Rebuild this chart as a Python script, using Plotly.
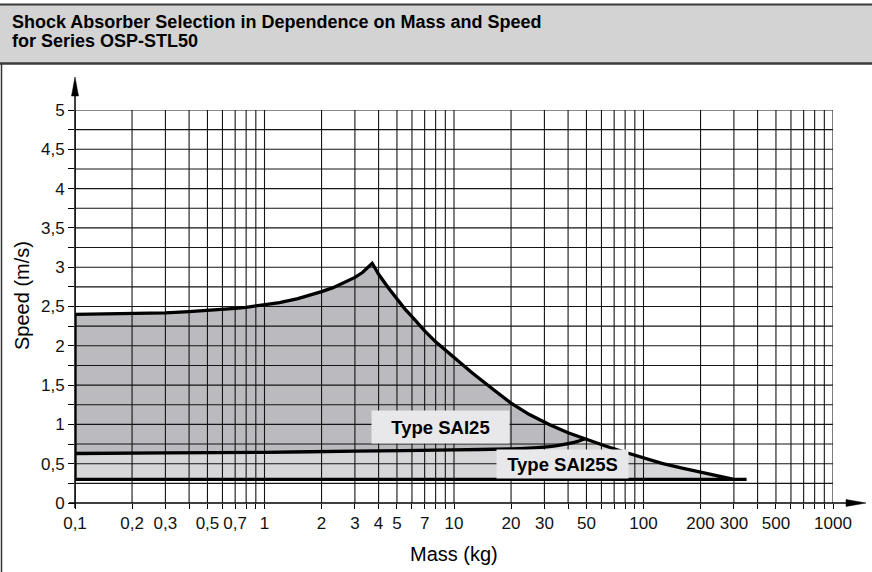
import math
import plotly.graph_objects as go

# ---------------- data ----------------
# upper boundary of the Type SAI25 range (mass kg, speed m/s)
sai25_mass = [0.1, 0.15, 0.2, 0.3, 0.4, 0.5, 0.6, 0.7, 0.8, 1, 1.2, 1.5, 1.8, 2, 2.3, 2.6,
              3, 3.3, 3.5, 3.7,
              3.85, 4, 4.5, 5, 5.5, 6, 7, 8, 9, 10, 12.5, 16, 20, 25, 32, 40,
              49, 63, 80, 100, 125, 160, 200, 250, 300]
sai25_speed = [2.40, 2.405, 2.41, 2.42, 2.435, 2.45, 2.46, 2.475, 2.49, 2.52, 2.55, 2.60,
               2.655, 2.69, 2.74, 2.80, 2.87, 2.935, 2.99, 3.05,
               2.98, 2.91, 2.74, 2.59, 2.47, 2.37, 2.19, 2.05, 1.945, 1.855, 1.655, 1.45,
               1.27, 1.125, 0.995, 0.893,
               0.815, 0.725, 0.645, 0.57, 0.505, 0.445, 0.39, 0.34, 0.30]
# upper boundary of the Type SAI25S range
sai25s_mass = [0.1, 0.3, 1, 3, 10, 20, 25, 30, 35, 40, 45, 49]
sai25s_speed = [0.63, 0.637, 0.645, 0.66, 0.675, 0.688, 0.698, 0.712, 0.73, 0.755, 0.785, 0.815]
# lower limit line
base_mass = [0.1, 350]
base_speed = [0.3, 0.3]

# labels
label_text = ["Type SAI25", "Type SAI25S"]
label_mass = [8.5, 37.4]
label_speed = [0.97, 0.50]

# axis ticks
x_grid = [0.1, 0.2, 0.3, 0.4, 0.5, 0.6, 0.7, 0.8, 0.9,
          1, 2, 3, 4, 5, 6, 7, 8, 9,
          10, 20, 30, 40, 50, 60, 70, 80, 90,
          100, 200, 300, 400, 500, 600, 700, 800, 900, 1000]
x_labels = {0.1: "0,1", 0.2: "0,2", 0.3: "0,3", 0.5: "0,5", 0.7: "0,7", 1: "1",
            2: "2", 3: "3", 4: "4", 5: "5", 7: "7", 10: "10", 20: "20", 30: "30",
            50: "50", 100: "100", 200: "200", 300: "300", 500: "500", 1000: "1000"}
y_grid = [i * 0.25 for i in range(0, 21)]
y_labels = {0: "0", 0.5: "0,5", 1: "1", 1.5: "1,5", 2: "2", 2.5: "2,5",
            3: "3", 3.5: "3,5", 4: "4", 4.5: "4,5", 5: "5"}

# ---------------- layout geometry ----------------
W, H = 872, 572
ML, MR, MT, MB = 75, 39, 110, 69
PW, PH = W - ML - MR, H - MT - MB


def px(xp):
    return (xp - ML) / PW


def py(yp):
    return (H - MB - yp) / PH


FONT = "Liberation Sans, Arial, sans-serif"
DARK = "#bbbbbf"
LIGHT = "#d6d6d8"

fig = go.Figure()

# ---------------- fills ----------------
cross = sai25_mass.index(sai25s_mass[-1])
dark_x = sai25_mass[:cross + 1] + sai25s_mass[::-1]
dark_y = sai25_speed[:cross + 1] + sai25s_speed[::-1]
fig.add_trace(go.Scatter(x=dark_x, y=dark_y, fill="toself", fillcolor=DARK,
                         mode="none", hoverinfo="skip", showlegend=False))

light_x = [base_mass[0]] + sai25s_mass + sai25_mass[cross + 1:] + [base_mass[0]]
light_y = [base_speed[0]] + sai25s_speed + sai25_speed[cross + 1:] + [base_speed[0]]
fig.add_trace(go.Scatter(x=light_x, y=light_y, fill="toself", fillcolor=LIGHT,
                         mode="none", hoverinfo="skip", showlegend=False))

# ---------------- grid (drawn over the fills) ----------------
gx, gy = [], []
for v in x_grid:
    gx += [v, v, None]
    gy += [y_grid[0], y_grid[-1], None]
for v in y_grid[1:]:
    gx += [x_grid[0], x_grid[-1], None]
    gy += [v, v, None]
fig.add_trace(go.Scatter(x=gx, y=gy, mode="lines", line=dict(color="#151515", width=1.1),
                         hoverinfo="skip", showlegend=False))

# ---------------- outlines ----------------
fig.add_trace(go.Scatter(x=[base_mass[1], base_mass[0]] + sai25_mass,
                         y=[base_speed[1], base_speed[0]] + sai25_speed,
                         mode="lines", line=dict(color="black", width=3.3),
                         hoverinfo="skip", showlegend=False))
fig.add_trace(go.Scatter(x=sai25s_mass, y=sai25s_speed, mode="lines",
                         line=dict(color="black", width=3.3, shape="spline", smoothing=0.6),
                         hoverinfo="skip", showlegend=False))

# ---------------- labels ----------------
sizes = [(135, 30), (129, 26)]
for t, m, s, (w, h) in zip(label_text, label_mass, label_speed, sizes):
    fig.add_annotation(x=math.log10(m), y=s, xref="x", yref="y", text=t,
                       showarrow=False, bgcolor="#e8e8ea", width=w, height=h,
                       font=dict(family=FONT, size=18.5, color="black", weight="bold"))

# ---------------- frame, title band, axis arrows ----------------
shapes = [
    dict(type="rect", xref="paper", yref="paper", x0=px(0), x1=px(W), y0=py(64), y1=py(4),
         fillcolor="#d3d3d3", line=dict(width=0), layer="below"),
    dict(type="line", xref="paper", yref="paper", x0=px(0), x1=px(W), y0=py(4.5), y1=py(4.5),
         line=dict(color="#3a3a3a", width=2)),
    dict(type="line", xref="paper", yref="paper", x0=px(0), x1=px(W), y0=py(63.5), y1=py(63.5),
         line=dict(color="#3a3a3a", width=2.5)),
    dict(type="line", xref="paper", yref="paper", x0=px(1.5), x1=px(1.5), y0=py(64), y1=py(H),
         line=dict(color="#333333", width=1.5)),
    # x axis with arrow
    dict(type="line", xref="paper", yref="paper", x0=px(69), x1=px(850), y0=0, y1=0,
         line=dict(color="black", width=1.5)),
    dict(type="path", xref="paper", yref="paper",
         path=f"M {px(846)} {py(499.5)} L {px(866)} {py(503)} L {px(846)} {py(506.5)} Z",
         fillcolor="black", line=dict(color="black", width=0.5)),
    # y axis with arrow
    dict(type="line", xref="paper", yref="paper", x0=0, x1=0, y0=py(508), y1=py(92),
         line=dict(color="black", width=1.5)),
    dict(type="path", xref="paper", yref="paper",
         path=f"M {px(71.5)} {py(96)} L {px(75)} {py(77)} L {px(78.5)} {py(96)} Z",
         fillcolor="black", line=dict(color="black", width=0.5)),
]

annotations = [
    dict(xref="paper", yref="paper", x=px(10), y=py(22), xanchor="left", yanchor="middle",
         text="Shock Absorber Selection in Dependence on Mass and Speed", showarrow=False,
         font=dict(family=FONT, size=18, color="black", weight="bold")),
    dict(xref="paper", yref="paper", x=px(10), y=py(41), xanchor="left", yanchor="middle",
         text="for Series OSP-STL50", showarrow=False,
         font=dict(family=FONT, size=18, color="black", weight="bold")),
    dict(xref="paper", yref="paper", x=px(22), y=py(296), xanchor="center", yanchor="middle",
         text="Speed (m/s)", textangle=-90, showarrow=False,
         font=dict(family=FONT, size=20, color="black")),
    dict(xref="paper", yref="paper", x=px(454), y=py(554), xanchor="center", yanchor="middle",
         text="Mass (kg)", showarrow=False,
         font=dict(family=FONT, size=20, color="black")),
]

fig.update_layout(
    width=W, height=H,
    margin=dict(l=ML, r=MR, t=MT, b=MB),
    paper_bgcolor="white", plot_bgcolor="white",
    showlegend=False,
    shapes=shapes,
    annotations=list(fig.layout.annotations) + annotations,
    font=dict(family=FONT, size=17, color="#111111"),
)
fig.update_xaxes(type="log", range=[math.log10(x_grid[0]), math.log10(x_grid[-1])],
                 showgrid=False, zeroline=False, showline=False,
                 tickvals=x_grid, ticktext=[x_labels.get(v, "") for v in x_grid],
                 ticks="outside", ticklen=5, tickcolor="black", tickwidth=1,
                 tickfont=dict(family=FONT, size=17, color="#111111"))
fig.update_yaxes(range=[y_grid[0], y_grid[-1]],
                 showgrid=False, zeroline=False, showline=False,
                 tickvals=y_grid, ticktext=[y_labels.get(v, "") for v in y_grid],
                 ticks="outside", ticklen=6, tickcolor="black", tickwidth=1,
                 tickfont=dict(family=FONT, size=17, color="#111111"))

fig.write_html("out.html", config={"displayModeBar": False},
               post_script="document.body.style.margin='0px';document.body.style.overflow='hidden';")
